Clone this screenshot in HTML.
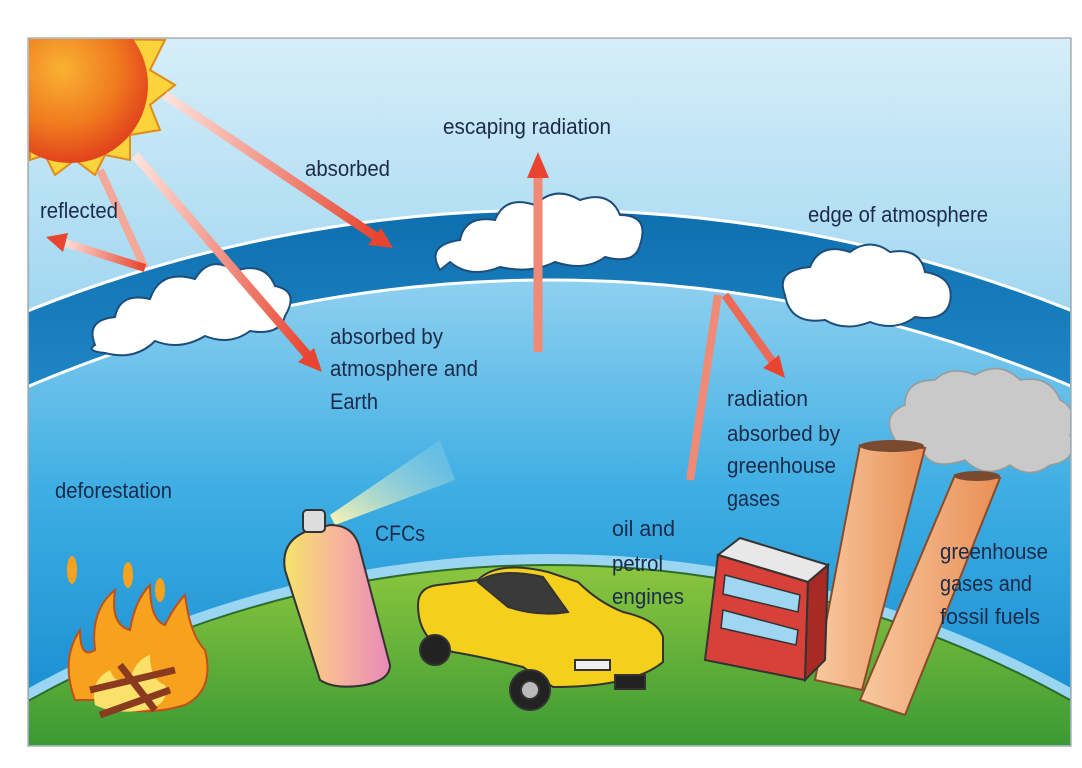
<!DOCTYPE html>
<html><head><meta charset="utf-8"><style>
html,body{margin:0;padding:0;background:#fff;overflow:hidden;width:1082px;height:768px;}
svg{display:block;overflow:hidden}
text{font-family:"Liberation Sans",sans-serif;font-size:22px;fill:#1d2b4a;}
</style></head><body>
<svg width="1082" height="768" viewBox="0 0 1082 768" xmlns="http://www.w3.org/2000/svg">
<defs>
<linearGradient id="sky" x1="0" y1="38" x2="0" y2="330" gradientUnits="userSpaceOnUse">
<stop offset="0" stop-color="#d6eef9"/><stop offset="1" stop-color="#9dd5f0"/>
</linearGradient>
<linearGradient id="low" x1="0" y1="280" x2="0" y2="700" gradientUnits="userSpaceOnUse">
<stop offset="0" stop-color="#8fd0f0"/><stop offset="0.5" stop-color="#3eaee3"/><stop offset="1" stop-color="#1a8fd2"/>
</linearGradient>
<linearGradient id="band" x1="0" y1="210" x2="0" y2="390" gradientUnits="userSpaceOnUse">
<stop offset="0" stop-color="#0f6fae"/><stop offset="1" stop-color="#1f86c6"/>
</linearGradient>
<radialGradient id="sun" cx="0.45" cy="0.4" r="0.6">
<stop offset="0" stop-color="#f9b233"/><stop offset="0.6" stop-color="#f07a1e"/><stop offset="1" stop-color="#e2431d"/>
</radialGradient>
<linearGradient id="grass" x1="0" y1="565" x2="0" y2="745" gradientUnits="userSpaceOnUse">
<stop offset="0" stop-color="#8cc63f"/><stop offset="1" stop-color="#3a9a34"/>
</linearGradient>
<linearGradient id="arr" x1="0" y1="0" x2="1" y2="0">
<stop offset="0" stop-color="#fde3dd"/><stop offset="1" stop-color="#e8442f"/>
</linearGradient>
<linearGradient id="can" x1="0" y1="0" x2="1" y2="0">
<stop offset="0" stop-color="#f7e36b"/><stop offset="0.5" stop-color="#f7b59a"/><stop offset="1" stop-color="#e889b8"/>
</linearGradient>
<linearGradient id="spray" x1="0" y1="1" x2="1" y2="0">
<stop offset="0" stop-color="#fff6b0"/><stop offset="1" stop-color="#8fd0ef" stop-opacity="0.2"/>
</linearGradient>
<linearGradient id="chim" x1="0" y1="0" x2="1" y2="0">
<stop offset="0" stop-color="#f8c9a0"/><stop offset="1" stop-color="#e98f55"/>
</linearGradient>
<clipPath id="fr"><rect x="29" y="39" width="1041" height="706"/></clipPath>
</defs>
<rect x="28" y="38" width="1043" height="708" fill="url(#sky)" stroke="#888" stroke-width="1"/>
<g clip-path="url(#fr)">
<circle cx="550" cy="1612" r="1402" fill="url(#band)" stroke="#fff" stroke-width="3"/>
<circle cx="550" cy="1612" r="1332" fill="url(#low)" stroke="#fff" stroke-width="3"/>
<circle cx="550" cy="1634" r="1080" fill="#9ad6f2"/>
<circle cx="550" cy="1634" r="1069" fill="url(#grass)" stroke="#2d6b2a" stroke-width="2"/>
<g>
<polygon points="30,38 165,40 150,70 175,85 150,105 160,130 130,135 130,160 105,155 95,175 75,160 55,175 45,155 30,160" fill="#fbd33a" stroke="#e38a1a" stroke-width="2"/>
<circle cx="70" cy="85" r="78" fill="url(#sun)"/>
</g>
<g fill="#fff" stroke="#1d4d7a" stroke-width="2">
<path d="M95,345 q-10,-25 20,-28 q5,-25 35,-18 q10,-30 45,-20 q15,-25 40,-8 q30,-10 40,15 q25,5 10,30 q-5,20 -35,15 q-20,15 -45,5 q-25,15 -50,5 q-20,20 -50,12 q-20,-2 -10,-8z"/>
<path d="M440,270 q-15,-25 20,-30 q5,-25 35,-20 q10,-25 40,-15 q20,-20 45,-5 q30,-10 40,15 q30,0 20,30 q-5,20 -35,12 q-20,15 -50,5 q-25,12 -55,5 q-30,12 -50,-5z"/>
<path d="M785,295 q-10,-25 25,-28 q10,-25 40,-15 q20,-15 40,0 q30,-5 35,20 q30,5 25,30 q-5,20 -35,15 q-20,15 -45,5 q-25,10 -45,-2 q-35,5 -40,-25z"/>
</g>
<g stroke-linecap="butt">
<line x1="165" y1="95" x2="378" y2="238" stroke="url(#arr)" stroke-width="9"/>
<polygon points="393,248 368,245 381,228" fill="#e8442f"/>
<line x1="135" y1="155" x2="310" y2="358" stroke="url(#arr)" stroke-width="9"/>
<polygon points="322,372 298,362 314,348" fill="#e8442f"/>
<line x1="100" y1="170" x2="145" y2="268" stroke="#f3a99a" stroke-width="8"/>
<line x1="145" y1="268" x2="62" y2="242" stroke="url(#arr)" stroke-width="8"/>
<polygon points="46,237 68,233 63,252" fill="#e8442f"/>
<line x1="538" y1="352" x2="538" y2="172" stroke="#f08a76" stroke-width="9"/>
<polygon points="538,152 527,178 549,178" fill="#e8442f"/>
<line x1="690" y1="480" x2="718" y2="295" stroke="#f08a76" stroke-width="8"/>
<line x1="725" y1="295" x2="775" y2="365" stroke="#ec6a55" stroke-width="8"/>
<polygon points="785,378 763,368 779,355" fill="#e8442f"/>
</g>
<g fill="#c9c9c9" stroke="#9a9a9a" stroke-width="1.5">
<path d="M895,440 q-15,-25 10,-35 q0,-25 30,-25 q15,-15 40,-5 q25,-15 45,5 q30,-5 40,20 q20,10 10,35 q10,25 -20,30 q-20,15 -40,0 q-25,15 -45,-5 q-30,10 -40,-5 q-30,0 -30,-15z"/>
</g>
<polygon points="860,445 925,448 862,690 815,680" fill="url(#chim)" stroke="#8a4a2a" stroke-width="2"/>
<ellipse cx="892" cy="446" rx="32" ry="6" fill="#7a4a30"/>
<polygon points="955,475 1000,478 905,715 860,700" fill="url(#chim)" stroke="#8a4a2a" stroke-width="2"/>
<ellipse cx="977" cy="476" rx="23" ry="5" fill="#7a4a30"/>
<polygon points="718,555 740,538 828,565 808,582" fill="#e8e8e8" stroke="#333" stroke-width="2"/>
<polygon points="718,555 808,582 805,680 705,660" fill="#d8403a" stroke="#333" stroke-width="2"/>
<polygon points="808,582 828,565 825,660 805,680" fill="#a82a25" stroke="#333" stroke-width="2"/>
<polygon points="725,575 800,595 798,612 723,594" fill="#9fd6f2" stroke="#333" stroke-width="1.5"/>
<polygon points="723,610 798,630 796,645 721,628" fill="#9fd6f2" stroke="#333" stroke-width="1.5"/>
<g stroke="#333" stroke-width="2">
<path d="M418,605 q0,-18 20,-20 l40,-5 q20,-20 70,-8 l30,10 q20,20 45,30 q35,8 40,25 l0,25 q-30,25 -110,25 l-30,-20 q-40,-10 -70,-15 q-35,-10 -35,-47z" fill="#f4cf1c"/>
<path d="M478,582 q20,-15 65,-5 l25,35 q-30,5 -60,-5z" fill="#3a3a3a"/>
<circle cx="435" cy="650" r="15" fill="#222"/>
<circle cx="530" cy="690" r="20" fill="#222"/>
<circle cx="530" cy="690" r="9" fill="#bbb"/>
<rect x="575" y="660" width="35" height="10" fill="#eee"/>
<rect x="615" y="675" width="30" height="14" fill="#222"/>
</g>
<polygon points="330,515 440,440 455,480 335,525" fill="url(#spray)"/>
<g stroke="#333" stroke-width="2">
<path d="M285,570 q-5,-30 25,-40 l20,-5 q25,0 30,25 l30,115 q0,15 -25,20 q-30,5 -45,-5z" fill="url(#can)"/>
<rect x="303" y="510" width="22" height="22" rx="4" fill="#ddd"/>
</g>
<g>
<path d="M75,700 q-15,-40 5,-70 q0,30 15,20 q-5,-40 20,-60 q-5,35 15,40 q5,-30 20,-45 q0,35 15,40 q10,-20 20,-30 q5,40 20,55 q10,40 -20,55 q-50,15 -90,-5z" fill="#f6a21e" stroke="#c0501a" stroke-width="2"/>
<path d="M95,705 q-5,-25 15,-35 q5,15 20,10 q5,-20 20,-25 q0,25 15,30 q5,20 -20,25 q-30,5 -50,-5z" fill="#fbe06a"/>
<g stroke="#8a3a1f" stroke-width="7">
<line x1="90" y1="690" x2="175" y2="670"/><line x1="100" y1="715" x2="170" y2="690"/><line x1="120" y1="665" x2="155" y2="710"/>
</g>
<g fill="#f6a21e"><ellipse cx="72" cy="570" rx="5" ry="14"/><ellipse cx="128" cy="575" rx="5" ry="13"/><ellipse cx="160" cy="590" rx="5" ry="12"/></g>
</g>
</g>
<g>
<text x="443" y="134" textLength="168" lengthAdjust="spacingAndGlyphs">escaping radiation</text>
<text x="305" y="176" textLength="85" lengthAdjust="spacingAndGlyphs">absorbed</text>
<text x="40" y="218" textLength="78" lengthAdjust="spacingAndGlyphs">reflected</text>
<text x="808" y="222" textLength="180" lengthAdjust="spacingAndGlyphs">edge of atmosphere</text>
<text x="330" y="344" textLength="113" lengthAdjust="spacingAndGlyphs">absorbed by</text>
<text x="330" y="376" textLength="148" lengthAdjust="spacingAndGlyphs">atmosphere and</text>
<text x="330" y="409" textLength="48" lengthAdjust="spacingAndGlyphs">Earth</text>
<text x="727" y="406" textLength="81" lengthAdjust="spacingAndGlyphs">radiation</text>
<text x="727" y="441" textLength="113" lengthAdjust="spacingAndGlyphs">absorbed by</text>
<text x="727" y="473" textLength="109" lengthAdjust="spacingAndGlyphs">greenhouse</text>
<text x="727" y="506" textLength="53" lengthAdjust="spacingAndGlyphs">gases</text>
<text x="55" y="498" textLength="117" lengthAdjust="spacingAndGlyphs">deforestation</text>
<text x="375" y="541" textLength="50" lengthAdjust="spacingAndGlyphs">CFCs</text>
<text x="612" y="536" textLength="63" lengthAdjust="spacingAndGlyphs">oil and</text>
<text x="612" y="571" textLength="51" lengthAdjust="spacingAndGlyphs">petrol</text>
<text x="612" y="604" textLength="72" lengthAdjust="spacingAndGlyphs">engines</text>
<text x="940" y="559" textLength="108" lengthAdjust="spacingAndGlyphs">greenhouse</text>
<text x="940" y="591" textLength="92" lengthAdjust="spacingAndGlyphs">gases and</text>
<text x="940" y="624" textLength="100" lengthAdjust="spacingAndGlyphs">fossil fuels</text>
</g>
</svg>
</body></html>
